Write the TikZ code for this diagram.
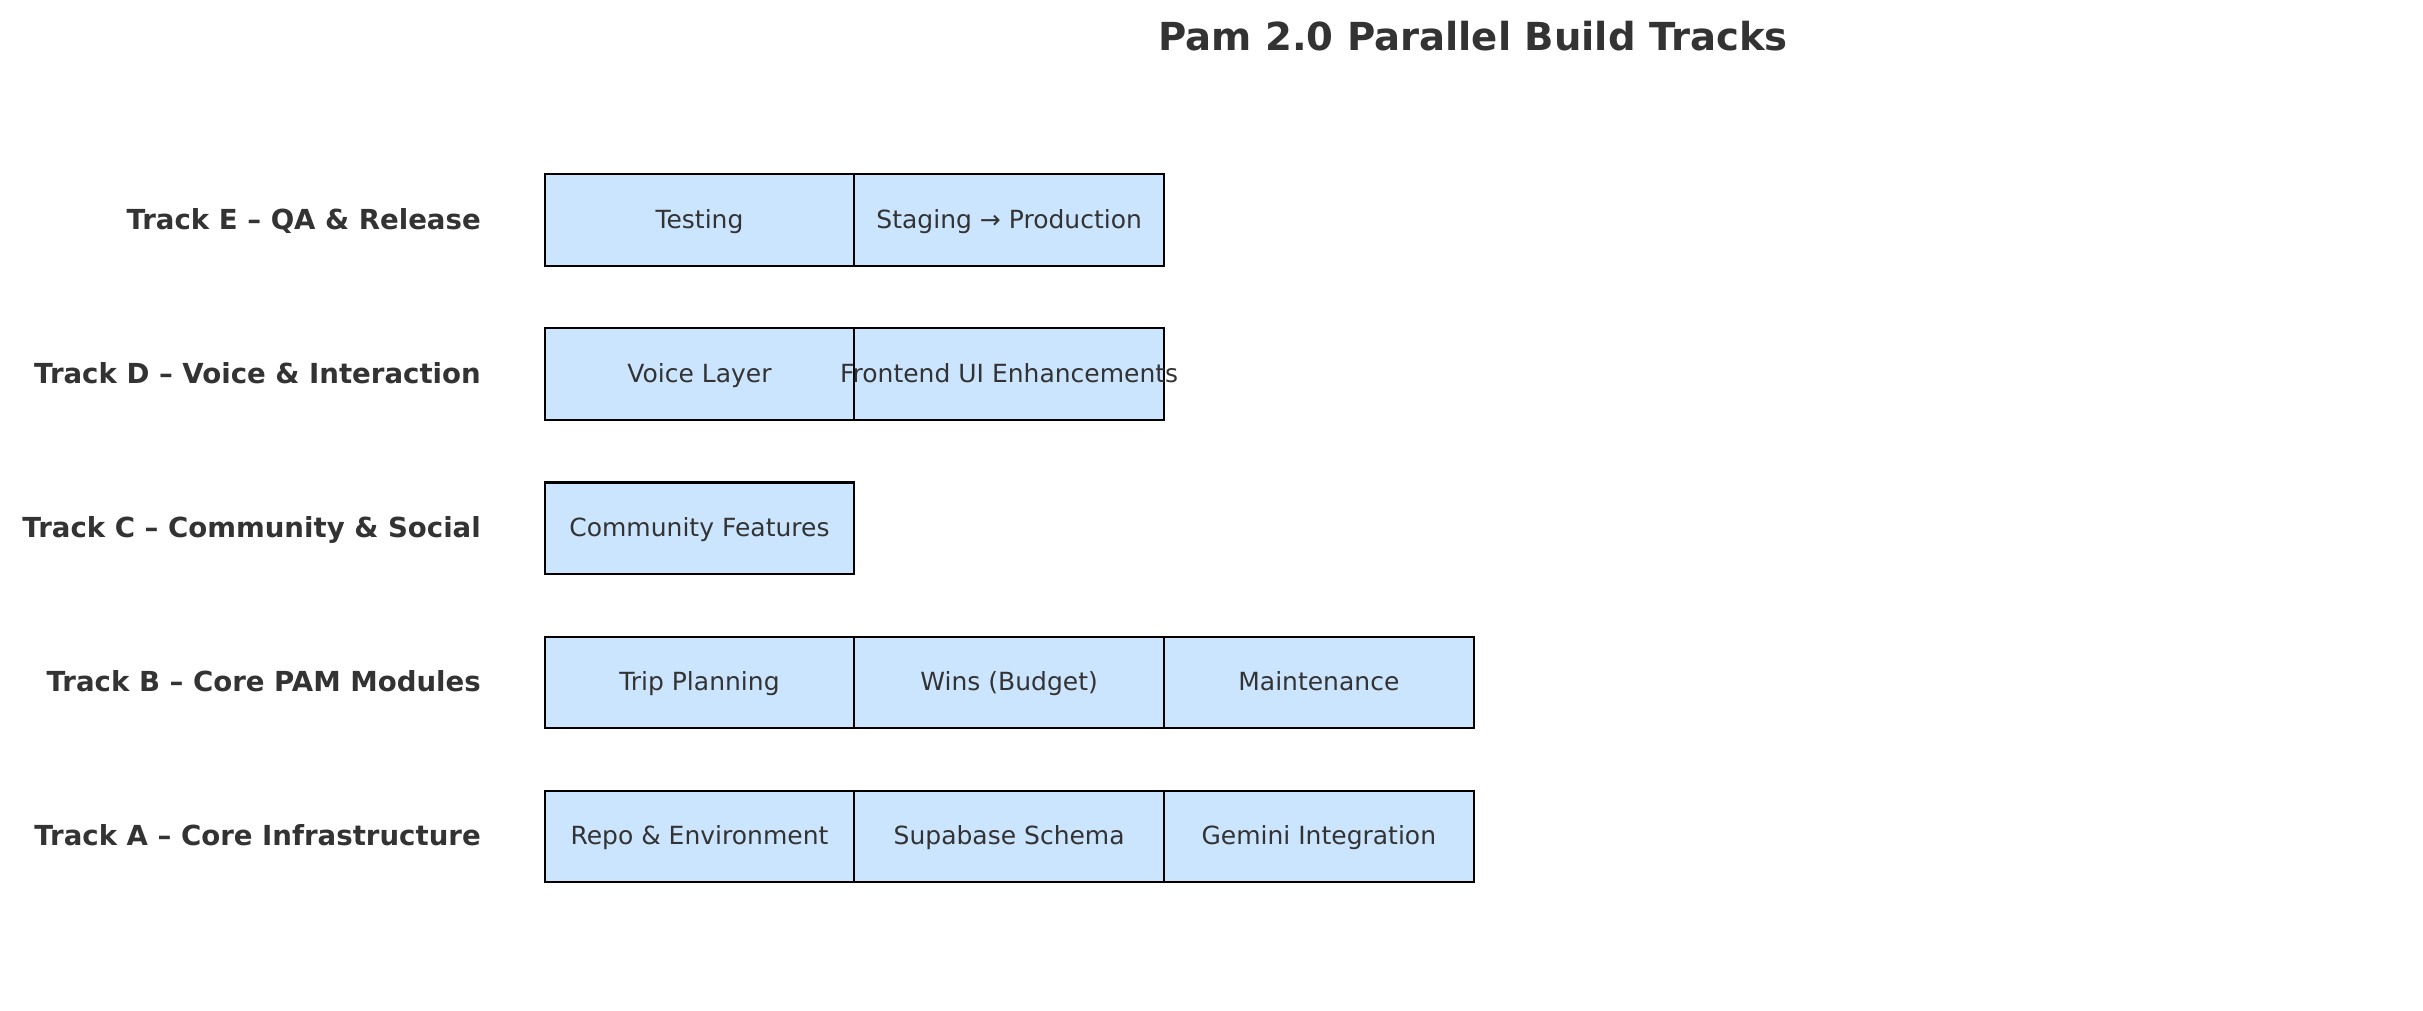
\documentclass[tikz,border=0pt]{standalone}
\usepackage{fontspec}
\setmainfont{DejaVu Sans}
\begin{document}
\begin{tikzpicture}[x=1pt,y=-1pt,
  txt/.style={text=textgray},
  taskbox/.style={draw=black, line width=2.2pt, fill=boxblue, minimum width=309.7pt,
    minimum height=91.5pt, inner sep=0pt, anchor=west},
  tasklabel/.style={txt, anchor=base, inner sep=0pt, font=\fontsize{25}{30}\selectfont},
  tracklabel/.style={txt, anchor=base east, inner sep=0pt, font=\fontsize{27.6}{33}\selectfont\bfseries},
  titlestyle/.style={txt, anchor=base, inner sep=0pt, font=\fontsize{38.6}{45}\selectfont\bfseries}]
\definecolor{boxblue}{HTML}{CCE5FF}
\definecolor{textgray}{HTML}{333333}
\useasboundingbox (0,0) rectangle (2423,1010);
\node[titlestyle] (title) at (1473,50) {Pam 2.0 Parallel Build Tracks};
% rows: E 220, D 374.1, C 528.3, B 682.4, A 836.5
\node[tracklabel] (lE) at (481,229.3) {Track E – QA \& Release};
\node[tracklabel] (lD) at (481,383.4) {Track D – Voice \& Interaction};
\node[tracklabel] (lC) at (481,537.6) {Track C – Community \& Social};
\node[tracklabel] (lB) at (481,691.7) {Track B – Core PAM Modules};
\node[tracklabel] (lA) at (481,845.8) {Track A – Core Infrastructure};
% Track E
\node[taskbox] (e1) at (543.5,220) {};
\node[taskbox] (e2) at (853.2,220) {};
\node[tasklabel] at ([yshift=-8pt]e1.center) {Testing};
\node[tasklabel] at ([yshift=-8pt]e2.center) {Staging → Production};
% Track D
\node[taskbox] (d1) at (543.5,374.1) {};
\node[taskbox] (d2) at (853.2,374.1) {};
\node[tasklabel] at ([yshift=-8pt]d1.center) {Voice Layer};
\node[tasklabel] at ([yshift=-8pt]d2.center) {Frontend UI Enhancements};
% Track C
\node[taskbox] (c1) at (543.5,528.3) {};
\node[tasklabel] at ([yshift=-8pt]c1.center) {Community Features};
% Track B
\node[taskbox] (b1) at (543.5,682.4) {};
\node[taskbox] (b2) at (853.2,682.4) {};
\node[taskbox] (b3) at (1162.9,682.4) {};
\node[tasklabel] at ([yshift=-8pt]b1.center) {Trip Planning};
\node[tasklabel] at ([yshift=-8pt]b2.center) {Wins (Budget)};
\node[tasklabel] at ([yshift=-8pt]b3.center) {Maintenance};
% Track A
\node[taskbox] (a1) at (543.5,836.5) {};
\node[taskbox] (a2) at (853.2,836.5) {};
\node[taskbox] (a3) at (1162.9,836.5) {};
\node[tasklabel] at ([yshift=-8pt]a1.center) {Repo \& Environment};
\node[tasklabel] at ([yshift=-8pt]a2.center) {Supabase Schema};
\node[tasklabel] at ([yshift=-8pt]a3.center) {Gemini Integration};
\end{tikzpicture}
\end{document}
